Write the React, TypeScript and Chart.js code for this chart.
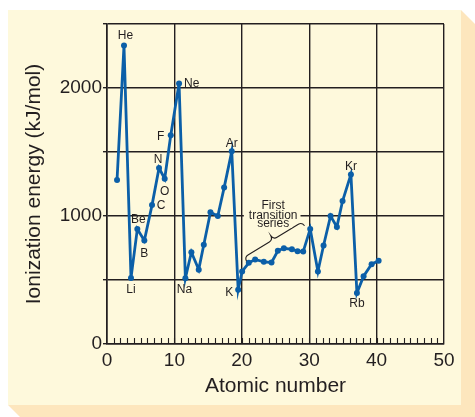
import { useEffect, useRef } from 'react';
import { Chart, registerables } from 'chart.js';

Chart.register(...registerables);

// ---- data ----
const elementSymbols = ['H', 'He', 'Li', 'Be', 'B', 'C', 'N', 'O', 'F', 'Ne', 'Na', 'Mg', 'Al', 'Si', 'P', 'S', 'Cl', 'Ar', 'K', 'Ca', 'Sc', 'Ti', 'V', 'Cr', 'Mn', 'Fe', 'Co', 'Ni', 'Cu', 'Zn', 'Ga', 'Ge', 'As', 'Se', 'Br', 'Kr', 'Rb', 'Sr', 'Y', 'Zr'];
// position of each point along the atomic-number axis, as drawn in the figure
const plottedAtomicNumber = [1.49, 2.52, 3.56, 4.5, 5.54, 6.68, 7.72, 8.56, 9.46, 10.69, 11.63, 12.52, 13.61, 14.36, 15.35, 16.44, 17.38, 18.51, 19.46, 20.05, 21.04, 21.98, 23.27, 24.41, 25.35, 26.24, 27.43, 28.27, 29.11, 30.15, 31.29, 32.13, 33.17, 34.11, 34.95, 36.19, 37.08, 38.07, 39.26, 40.3];
const ionizationEnergy = [1281, 2332, 515, 898, 808, 1085, 1375, 1291, 1631, 2036, 514, 717, 581, 776, 1029, 1000, 1222, 1505, 424, 567, 634, 660, 642, 637, 728, 748, 740, 725, 722, 899, 567, 770, 1000, 915, 1117, 1325, 399, 530, 624, 650];
const labeledElements = ['He', 'Ne', 'F', 'N', 'O', 'C', 'Be', 'B', 'Li', 'Na', 'Ar', 'K', 'Kr', 'Rb'];
const xTickStep = 10;
const yTickStep = 500;
const yLabeledTicks = [0, 1000, 2000];
const transitionNote = ['First', 'transition', 'series'];
const transitionRange = ['Ca', 'Zn'];

// ---- styles ----
const CARD = '#fef9dc';
const SHADOW = '#fde6bd';
const INK = '#231f20';
const BLUE = '#0b5fa8';
const FONT = "'Liberation Sans', Arial, Helvetica, sans-serif";

// label offsets in pixels relative to the data point: [dx, dy, align]
const labelOffsets: Record<string, [number, number, CanvasTextAlign]> = {
  He: [1.5, -10, 'center'],
  Ne: [5, 0, 'left'],
  F: [-10, 1, 'center'],
  N: [-1, -8, 'center'],
  O: [0, 13, 'center'],
  C: [9, 1, 'center'],
  Be: [1, -9, 'center'],
  B: [0, 13, 'center'],
  Li: [0, 12, 'center'],
  Na: [-1, 11, 'center'],
  Ar: [0, -8, 'center'],
  K: [-9, 3, 'center'],
  Kr: [0, -8, 'center'],
  Rb: [0, 11, 'center'],
};

const backgroundPlugin = {
  id: 'cardBackground',
  beforeDraw(chart: any) {
    const { ctx, width, height } = chart;
    ctx.save();
    ctx.fillStyle = '#ffffff';
    ctx.fillRect(0, 0, width, height);
    ctx.fillStyle = SHADOW;
    ctx.beginPath();
    ctx.moveTo(461, 10);
    ctx.lineTo(475, 24);
    ctx.lineTo(475, 417);
    ctx.lineTo(20, 417);
    ctx.lineTo(8, 405);
    ctx.closePath();
    ctx.fill();
    ctx.fillStyle = CARD;
    ctx.fillRect(8, 10, 453, 395);
    ctx.restore();
  },
};

const minorTickPlugin = {
  id: 'minorTicks',
  beforeDatasetsDraw(chart: any) {
    const { ctx, chartArea } = chart;
    const xs = chart.scales.x;
    ctx.save();
    ctx.strokeStyle = INK;
    ctx.lineWidth = 1.1;
    ctx.beginPath();
    for (let v = xs.min + 1; v < xs.max; v += 1) {
      const px = Math.round(xs.getPixelForValue(v)) + 0.5;
      ctx.moveTo(px, chartArea.bottom);
      ctx.lineTo(px, chartArea.bottom - 6);
    }
    ctx.stroke();
    ctx.restore();
  },
};

function drawBrace(ctx: CanvasRenderingContext2D, x1: number, y1: number, x2: number, y2: number, d: number) {
  const len = Math.hypot(x2 - x1, y2 - y1);
  const ang = Math.atan2(y2 - y1, x2 - x1);
  const h = len / 2;
  ctx.save();
  ctx.translate(x1, y1);
  ctx.rotate(ang);
  ctx.beginPath();
  ctx.moveTo(0, d);
  ctx.quadraticCurveTo(0.5, 0, d, 0);
  ctx.lineTo(h - d, 0);
  ctx.quadraticCurveTo(h - 0.5, 0, h, -d);
  ctx.quadraticCurveTo(h + 0.5, 0, h + d, 0);
  ctx.lineTo(len - d, 0);
  ctx.quadraticCurveTo(len - 0.5, 0, len, d);
  ctx.stroke();
  ctx.restore();
}

const annotationPlugin = {
  id: 'elementLabels',
  afterDatasetsDraw(chart: any) {
    const { ctx } = chart;
    const xs = chart.scales.x;
    const ys = chart.scales.y;
    const px = (i: number) => xs.getPixelForValue(plottedAtomicNumber[i]);
    const py = (i: number) => ys.getPixelForValue(ionizationEnergy[i]);
    ctx.save();
    ctx.fillStyle = INK;
    ctx.font = `12px ${FONT}`;
    ctx.textBaseline = 'middle';
    labeledElements.forEach((sym) => {
      const i = elementSymbols.indexOf(sym);
      const [dx, dy, align] = labelOffsets[sym];
      ctx.textAlign = align;
      ctx.fillText(sym, px(i) + dx, py(i) + dy);
    });

    // transition series brace
    const a = elementSymbols.indexOf(transitionRange[0]);
    const b = elementSymbols.indexOf(transitionRange[1]);
    const x1 = px(a) + 2, y1 = py(a) - 14;
    const x2 = px(b) - 8, y2 = py(b) - 7;
    ctx.strokeStyle = INK;
    ctx.lineWidth = 1.1;
    drawBrace(ctx, x1, y1, x2, y2, 4.5);
    const mx = (x1 + x2) / 2;
    const my = (y1 + y2) / 2;
    const lineOffsets = [-33.5, -24, -16];
    ctx.font = `12px ${FONT}`;
    ctx.textAlign = 'center';
    transitionNote.forEach((t, k) => {
      const ty = my + lineOffsets[k];
      const w = ctx.measureText(t).width;
      ctx.fillStyle = CARD;
      ctx.fillRect(mx - w / 2 - 5, ty - 4, w + 8, 8);
    });
    ctx.fillStyle = INK;
    transitionNote.forEach((t, k) => {
      ctx.fillText(t, mx, my + lineOffsets[k]);
    });
    ctx.restore();
  },
};

export default function App() {
  const canvasRef = useRef<HTMLCanvasElement | null>(null);

  useEffect(() => {
    if (!canvasRef.current) return;
    const points = plottedAtomicNumber.map((x, i) => ({ x, y: ionizationEnergy[i] }));
    const chart = new Chart(canvasRef.current, {
      type: 'line',
      data: {
        datasets: [
          {
            label: 'Ionization energy',
            data: points,
            borderColor: BLUE,
            borderWidth: 2.8,
            pointRadius: 3,
            pointBorderWidth: 0,
            pointBackgroundColor: BLUE,
            tension: 0,
            fill: false,
          },
        ],
      },
      options: {
        responsive: false,
        animation: false,
        devicePixelRatio: 1,
        layout: { padding: { top: 24, right: 31, left: 0, bottom: 0 } },
        plugins: {
          legend: { display: false },
          tooltip: { enabled: false },
        },
        scales: {
          x: {
            type: 'linear',
            min: 0,
            max: 50,
            afterFit: (s: any) => {
              s.height = 73;
            },
            ticks: {
              stepSize: xTickStep,
              font: { family: FONT, size: 19 },
              color: INK,
              padding: 5,
              maxRotation: 0,
              autoSkip: false,
            },
            grid: { color: INK, lineWidth: 1.4, drawTicks: false },
            border: { color: INK, width: 1.6 },
            title: {
              display: true,
              text: 'Atomic number',
              font: { family: FONT, size: 21 },
              color: INK,
              padding: { top: 0, bottom: 18 },
            },
          },
          y: {
            type: 'linear',
            min: 0,
            max: 2500,
            afterFit: (s: any) => {
              s.width = 107;
            },
            ticks: {
              stepSize: yTickStep,
              callback: (v: any) => (yLabeledTicks.includes(Number(v)) ? String(v) : ''),
              font: { family: FONT, size: 19 },
              color: INK,
              padding: 1,
            },
            grid: { color: INK, lineWidth: 1.4, tickLength: 4 },
            border: { color: INK, width: 1.6 },
            title: {
              display: true,
              text: 'Ionization energy (kJ/mol)',
              font: { family: FONT, size: 21 },
              color: INK,
              padding: { top: 22, bottom: 0 },
            },
          },
        },
      },
      plugins: [backgroundPlugin, minorTickPlugin, annotationPlugin],
    } as any);
    return () => chart.destroy();
  }, []);

  return (
    <div style={{ position: 'fixed', left: 0, top: 0, width: 475, height: 417 }}>
      <canvas ref={canvasRef} width={475} height={417} style={{ display: 'block', width: 475, height: 417 }} />
    </div>
  );
}
